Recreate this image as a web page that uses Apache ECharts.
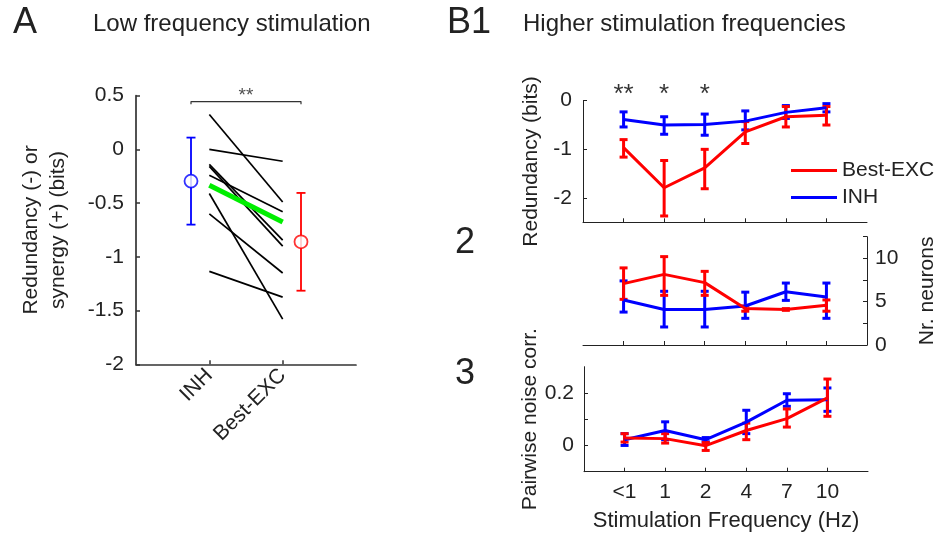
<!DOCTYPE html>
<html>
<head>
<meta charset="utf-8">
<script src="https://cdn.jsdelivr.net/npm/echarts@6/dist/echarts.min.js"></script>
<style>
  html, body { margin: 0; padding: 0; background: #fff; }
  #chart { width: 939px; height: 535px; }
</style>
</head>
<body>
<div id="chart"></div>
<script>
// Panel A: paired values INH -> Best-EXC (bits)
const pairInh = [0.325, 0, -0.14, -0.158, -0.24, -0.41, -0.60, -1.135];
const pairExc = [-0.49, -0.11, -0.845, -0.90, -0.58, -1.58, -1.15, -1.375];
const pairMean = [-0.334, -0.675];
const groupLabels = ['INH', 'Best-EXC'];
const groupX = [0.75, 2.25];
const groupMean = [-0.295, -0.86];
const groupLow = [-0.70, -1.315];
const groupHigh = [0.11, -0.405];
const sigA = { x: [0.75, 2.25], y: 0.445, text: '**' };

// Panel B: stimulation frequencies
const freqLabels = ['<1', '1', '2', '4', '7', '10'];
const freqX = [0, 1, 2, 3, 4, 5];
const sigStars = ['**', '*', '*', '', '', ''];

const redInhMean = [-0.385, -0.50, -0.49, -0.42, -0.24, -0.145];
const redInhLow  = [-0.54, -0.69, -0.71, -0.60, -0.365, -0.23];
const redInhHigh = [-0.23, -0.33, -0.275, -0.21, -0.10, -0.06];
const redExcMean = [-0.965, -1.79, -1.38, -0.64, -0.33, -0.30];
const redExcLow  = [-1.16, -2.37, -1.81, -0.88, -0.54, -0.50];
const redExcHigh = [-0.80, -1.23, -1.00, -0.43, -0.12, -0.12];

const nInhMean = [5.2, 4.1, 4.1, 4.5, 6.15, 5.55];
const nInhLow  = [3.8, 2.08, 2.08, 3.08, 5.15, 3.08];
const nInhHigh = [7.4, 6.2, 6.2, 6.1, 7.15, 7.15];
const nExcMean = [7.08, 8.15, 7.2, 4.2, 4.1, 4.58];
const nExcLow  = [5.27, 5.73, 5.73, 3.9, 4.0, 3.9];
const nExcHigh = [8.9, 10.2, 8.5, 4.5, 4.2, 5.2];

const corrInhMean = [0.022, 0.057, 0.022, 0.089, 0.172, 0.174];
const corrInhLow  = [0.0, 0.022, 0.014, 0.045, 0.149, 0.13];
const corrInhHigh = [0.045, 0.09, 0.03, 0.134, 0.197, 0.219];
const corrExcMean = [0.028, 0.026, -0.001, 0.057, 0.102, 0.181];
const corrExcLow  = [0.013, 0.009, -0.019, 0.022, 0.070, 0.111];
const corrExcHigh = [0.045, 0.045, 0.011, 0.085, 0.139, 0.253];

const FONT = '"Liberation Sans", Arial, sans-serif';
const INK = '#222';
const RED = '#ff0000';
const BLUE = '#0000ff';

const chart = echarts.init(document.getElementById('chart'));

function errorBars(name, color, xs, lows, highs, xi, yi, lw, cap) {
  return {
    name: name,
    type: 'custom',
    xAxisIndex: xi,
    yAxisIndex: yi,
    z: 3,
    silent: true,
    data: xs.map((x, i) => [x, lows[i], highs[i]]),
    encode: { x: 0, y: [1, 2] },
    renderItem(params, api) {
      const lo = api.coord([api.value(0), api.value(1)]);
      const hi = api.coord([api.value(0), api.value(2)]);
      const style = { stroke: color, lineWidth: lw };
      return {
        type: 'group',
        children: [
          { type: 'line', shape: { x1: lo[0], y1: lo[1], x2: hi[0], y2: hi[1] }, style },
          { type: 'line', shape: { x1: lo[0] - cap, y1: lo[1], x2: lo[0] + cap, y2: lo[1] }, style },
          { type: 'line', shape: { x1: hi[0] - cap, y1: hi[1], x2: hi[0] + cap, y2: hi[1] }, style },
        ],
      };
    },
  };
}

function meanLine(name, color, means, xi, yi) {
  return {
    name: name,
    type: 'line',
    xAxisIndex: xi,
    yAxisIndex: yi,
    z: 4,
    showSymbol: false,
    silent: true,
    data: freqX.map((x, i) => [x, means[i]]),
    lineStyle: { color: color, width: 3 },
    itemStyle: { color: color },
  };
}

const axisLineB = { show: true, onZero: false, lineStyle: { color: INK, width: 1 } };
const tickB = { show: true, inside: true, length: 4, lineStyle: { color: INK, width: 1 } };
const labelStyle = { color: INK, fontSize: 21, fontFamily: FONT };

function freqXAxis(gridIndex, showLabels) {
  return {
    type: 'value', gridIndex, min: -1, max: 6,
    axisLine: axisLineB,
    axisTick: Object.assign({ customValues: freqX }, tickB),
    axisLabel: Object.assign({
      show: showLabels, customValues: freqX, margin: 10,
      formatter: v => freqLabels[v],
    }, labelStyle),
    splitLine: { show: false },
    name: showLabels ? 'Stimulation Frequency (Hz)' : '',
    nameLocation: 'middle',
    nameGap: 38,
    nameTextStyle: { color: INK, fontSize: 22, fontFamily: FONT },
  };
}

// black paired lines in panel A
const pairSeries = pairInh.map((v, i) => ({
  name: 'pair' + i,
  type: 'line',
  xAxisIndex: 0, yAxisIndex: 0,
  showSymbol: false, silent: true, z: 2,
  data: [[1, v], [2, pairExc[i]]],
  lineStyle: { color: '#000', width: 1.7 },
}));

const option = {
  animation: false,
  backgroundColor: '#fff',
  textStyle: { fontFamily: FONT },
  grid: [
    { left: 136, top: 95.7, width: 220, height: 268.6 },
    { left: 583, top: 100.7, width: 284, height: 121.6 },
    { left: 583, top: 236.7, width: 284, height: 108.3 },
    { left: 584, top: 366.7, width: 284, height: 105 },
  ],
  legend: {
    data: ['Best-EXC', 'INH'],
    orient: 'vertical',
    left: 786, top: 155,
    icon: 'rect',
    itemWidth: 46, itemHeight: 3, itemGap: 6,
    selectedMode: false,
    textStyle: { color: INK, fontSize: 21, fontFamily: FONT, lineHeight: 21 },
  },
  xAxis: [
    {
      type: 'value', gridIndex: 0, min: 0, max: 3,
      axisLine: { onZero: false, lineStyle: { color: '#333', width: 1.7 } },
      axisTick: { inside: true, length: 4, customValues: [1, 2], lineStyle: { color: '#333', width: 1.5 } },
      axisLabel: Object.assign({
        customValues: [1, 2], rotate: 45, margin: 8,
        formatter: v => groupLabels[v - 1],
      }, labelStyle),
      splitLine: { show: false },
    },
    freqXAxis(1, false),
    freqXAxis(2, false),
    freqXAxis(3, true),
  ],
  yAxis: [
    {
      type: 'value', gridIndex: 0, min: -2, max: 0.5, interval: 0.5,
      axisLine: { show: true, onZero: false, lineStyle: { color: '#333', width: 1.7 } },
      axisTick: { show: true, inside: true, length: 4, lineStyle: { color: '#333', width: 1.5 } },
      axisLabel: Object.assign({ margin: 12 }, labelStyle),
      splitLine: { show: false },
      name: 'Redundancy (-) or\nsynergy (+) (bits)',
      nameLocation: 'middle', nameRotate: 90, nameGap: 64,
      nameTextStyle: { color: INK, fontSize: 21, fontFamily: FONT, lineHeight: 27 },
    },
    {
      type: 'value', gridIndex: 1, min: -2.5, max: 0,
      axisLine: axisLineB,
      axisTick: Object.assign({ customValues: [-2, -1, 0] }, tickB),
      axisLabel: Object.assign({ customValues: [-2, -1, 0], margin: 11 }, labelStyle),
      splitLine: { show: false },
      name: 'Redundancy (bits)',
      nameLocation: 'middle', nameRotate: 90, nameGap: 41,
      nameTextStyle: { color: INK, fontSize: 21, fontFamily: FONT },
    },
    {
      type: 'value', gridIndex: 2, min: 0, max: 12.5, interval: 2.5, position: 'right',
      axisLine: axisLineB,
      axisTick: tickB,
      axisLabel: Object.assign({ margin: 8, formatter: v => (v % 5 === 0 ? String(v) : '') }, labelStyle),
      splitLine: { show: false },
      name: 'Nr. neurons',
      nameLocation: 'middle', nameRotate: 90, nameGap: 50,
      nameTextStyle: { color: INK, fontSize: 21, fontFamily: FONT },
    },
    {
      type: 'value', gridIndex: 3, min: -0.1, max: 0.3,
      axisLine: axisLineB,
      axisTick: Object.assign({ customValues: [0, 0.1, 0.2] }, tickB),
      axisLabel: Object.assign({ customValues: [0, 0.2], margin: 10 }, labelStyle),
      splitLine: { show: false },
      name: 'Pairwise noise corr.',
      nameLocation: 'middle', nameRotate: 90, nameGap: 41,
      nameTextStyle: { color: INK, fontSize: 21, fontFamily: FONT },
    },
  ],
  graphic: [
    { type: 'text', left: 13, top: 5, style: { text: 'A', fontSize: 36, fontFamily: FONT, fill: INK } },
    { type: 'text', left: 93, top: 12, style: { text: 'Low frequency stimulation', fontSize: 24, fontFamily: FONT, fill: INK } },
    { type: 'text', left: 447, top: 5, style: { text: 'B1', fontSize: 36, fontFamily: FONT, fill: INK } },
    { type: 'text', left: 523, top: 12, style: { text: 'Higher stimulation frequencies', fontSize: 24, fontFamily: FONT, fill: INK } },
    { type: 'text', left: 455, top: 225, style: { text: '2', fontSize: 36, fontFamily: FONT, fill: INK } },
    { type: 'text', left: 455, top: 356, style: { text: '3', fontSize: 36, fontFamily: FONT, fill: INK } },
  ],
  series: [
    ...pairSeries,
    {
      name: 'mean pair', type: 'line', xAxisIndex: 0, yAxisIndex: 0,
      showSymbol: false, silent: true, z: 3,
      data: [[1, pairMean[0]], [2, pairMean[1]]],
      lineStyle: { color: '#00ee00', width: 5 },
    },
    errorBars('A INH err', BLUE, [groupX[0]], [groupLow[0]], [groupHigh[0]], 0, 0, 1.8, 4.5),
    errorBars('A EXC err', RED, [groupX[1]], [groupLow[1]], [groupHigh[1]], 0, 0, 1.8, 4.5),
    {
      name: 'A means', type: 'scatter', xAxisIndex: 0, yAxisIndex: 0, z: 4, silent: true,
      symbol: 'circle', symbolSize: 13,
      data: groupX.map((x, i) => ({
        value: [x, groupMean[i]],
        itemStyle: { color: '#fff', borderColor: i === 0 ? BLUE : RED, borderWidth: 1.8 },
      })),
    },
    {
      name: 'A sig', type: 'line', xAxisIndex: 0, yAxisIndex: 0,
      showSymbol: false, silent: true,
      data: [[sigA.x[0], sigA.y - 0.025], [sigA.x[0], sigA.y], [sigA.x[1], sigA.y], [sigA.x[1], sigA.y - 0.025]],
      lineStyle: { color: '#333', width: 1.2 },
    },
    {
      name: 'A sig text', type: 'scatter', xAxisIndex: 0, yAxisIndex: 0, clip: false, silent: true,
      symbolSize: 0,
      data: [[(sigA.x[0] + sigA.x[1]) / 2, sigA.y]],
      label: { show: true, position: 'top', distance: -4, formatter: sigA.text, color: INK, fontSize: 19, fontFamily: FONT },
    },

    // B1 redundancy
    errorBars('INH err', BLUE, freqX, redInhLow, redInhHigh, 1, 1, 3, 4),
    meanLine('INH', BLUE, redInhMean, 1, 1),
    errorBars('Best-EXC err', RED, freqX, redExcLow, redExcHigh, 1, 1, 3, 4),
    meanLine('Best-EXC', RED, redExcMean, 1, 1),
    {
      name: 'stars', type: 'scatter', xAxisIndex: 1, yAxisIndex: 1, clip: false, silent: true,
      symbolSize: 0,
      data: freqX.map(x => [x, 0.13]),
      label: {
        show: true, position: 'inside', color: '#000', fontSize: 26, fontFamily: FONT,
        formatter: p => sigStars[p.dataIndex],
      },
    },

    // B2 number of neurons
    errorBars('n INH err', BLUE, freqX, nInhLow, nInhHigh, 2, 2, 3, 4),
    meanLine('n INH', BLUE, nInhMean, 2, 2),
    errorBars('n EXC err', RED, freqX, nExcLow, nExcHigh, 2, 2, 3, 4),
    meanLine('n EXC', RED, nExcMean, 2, 2),

    // B3 noise correlation
    errorBars('c INH err', BLUE, freqX, corrInhLow, corrInhHigh, 3, 3, 3, 4),
    meanLine('c INH', BLUE, corrInhMean, 3, 3),
    errorBars('c EXC err', RED, freqX, corrExcLow, corrExcHigh, 3, 3, 3, 4),
    meanLine('c EXC', RED, corrExcMean, 3, 3),
  ],
};

chart.setOption(option);
</script>
</body>
</html>
